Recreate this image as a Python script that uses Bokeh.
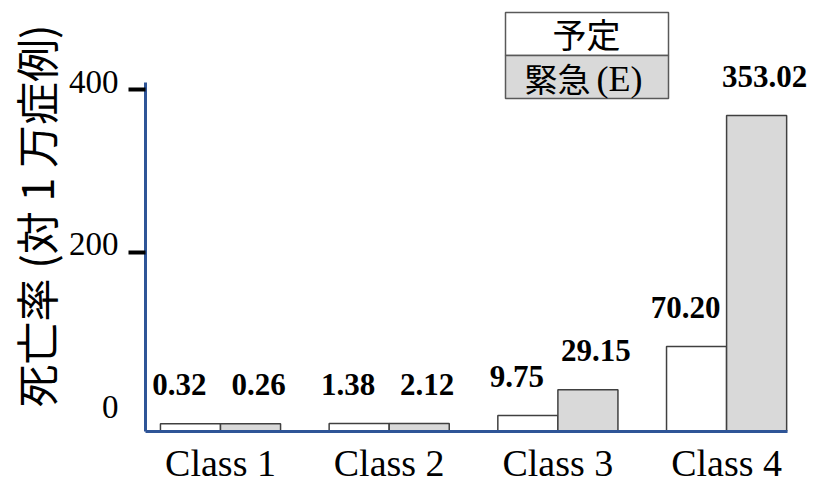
from bokeh.plotting import figure
from bokeh.models import Range1d, FixedTicker, ColumnDataSource, LinearAxis
from bokeh.core.properties import value
from bokeh.embed import file_html
from bokeh.resources import INLINE

# ---------------- data ----------------
categories = ["Class 1", "Class 2", "Class 3", "Class 4"]
series_names = ["予定", "緊急 (E)"]
planned_labels = ["0.32", "1.38", "9.75", "70.20"]
emergency_labels = ["0.26", "2.12", "29.15", "353.02"]
# bar tops (the source figure's bars are not drawn to scale)
planned_bar = [-10.8, -10.5, -0.6, 84.3]
emergency_bar = [-10.8, -10.5, 31.0, 368.6]
y_ticks = [0, 200, 400]
y_tick_labels = ["0", "200", "400"]
y_title = "死亡率 (対 1 万症例)"

# ---------------- layout constants ----------------
W, H = 816, 486
X0, X1 = 0.5554, 4.533
Y0, Y1 = -20.31, 510.15
BAR_W = 0.356
LABEL_SHIFT = 10          # tick labels sit slightly above their tick marks
AXIS_BLUE = "#2F5597"
GREY = "#D9D9D9"
EDGE = "#404040"
SERIF = "Liberation Serif"
CJK = "Noto Sans CJK JP"

# helper to convert legend pixel geometry to data space (legend decoration only)
FRAME_L, FRAME_T, FRAME_B = 145, 0, 431
def sx(px):
    return X0 + (px - FRAME_L) * (X1 - X0) / (W - FRAME_L)
def sy(py):
    return Y1 - (py - FRAME_T) * (Y1 - Y0) / (FRAME_B - FRAME_T)

xs = [i + 1 for i in range(len(categories))]

p = figure(width=W, height=H, output_backend="svg", toolbar_location=None,
           x_range=Range1d(X0, X1), y_range=Range1d(Y0, Y1),
           min_border_left=FRAME_L, min_border_right=0, min_border_top=0,
           min_border_bottom=H - FRAME_B)
p.grid.visible = False
p.outline_line_color = None
p.background_fill_color = "white"
p.border_fill_color = "white"

# bars
src = ColumnDataSource(dict(
    xp=[x - BAR_W / 2 for x in xs], xe=[x + BAR_W / 2 for x in xs],
    hp=planned_bar, he=emergency_bar,
    lp=planned_labels, le=emergency_labels))
p.vbar(x="xp", top="hp", bottom=Y0, width=BAR_W, source=src,
       fill_color="white", line_color=EDGE, line_width=1.5)
p.vbar(x="xe", top="he", bottom=Y0, width=BAR_W, source=src,
       fill_color=GREY, line_color=EDGE, line_width=1.5)

# value labels
p.text(x="xp", y="hp", text="lp", source=src, text_font=value(SERIF),
       text_font_style="bold", text_font_size="31px", text_align="center",
       text_baseline="alphabetic", x_offset=-11, y_offset=-39, text_color="black")
p.text(x="xe", y="he", text="le", source=src, text_font=value(SERIF),
       text_font_style="bold", text_font_size="31px", text_align="center",
       text_baseline="alphabetic", x_offset=8, y_offset=-39, text_color="black")

# legend (table-like box)
p.quad(left=[sx(505)], right=[sx(668)], top=[sy(12)], bottom=[sy(55)],
       fill_color="white", line_color="#595959", line_width=1.5)
p.quad(left=[sx(505)], right=[sx(668)], top=[sy(55)], bottom=[sy(98)],
       fill_color=GREY, line_color="#595959", line_width=1.5)
p.text(x=[sx(586)], y=[sy(33)], text=[series_names[0]], text_font=value(CJK),
       text_font_size="34px", text_align="center", text_baseline="middle",
       text_color="black")
em_cjk, em_lat = series_names[1].split(" ")
p.text(x=[sx(590)], y=[sy(77)], text=[em_cjk], text_font=value(CJK),
       text_font_size="33px", text_align="right", text_baseline="middle",
       text_color="black")
p.text(x=[sx(596)], y=[sy(78)], text=[em_lat], text_font=value(SERIF),
       text_font_size="36px", text_align="left", text_baseline="middle",
       text_color="black")

# y axis: tick marks only
ya = p.yaxis[0]
ya.ticker = FixedTicker(ticks=[t for t in y_ticks if t > 0], minor_ticks=[])
ya.bounds = (Y0, 409.2)
ya.axis_line_color = AXIS_BLUE
ya.axis_line_width = 3
ya.major_tick_out = 17
ya.major_tick_in = 0
ya.major_tick_line_width = 4
ya.major_tick_line_color = "black"
ya.minor_tick_line_color = None
ya.major_label_overrides = {t: "" for t in y_ticks}
ya.major_label_standoff = 0

# y axis: labels + title
shifted = [t + LABEL_SHIFT for t in y_ticks]
ya2 = LinearAxis(ticker=FixedTicker(ticks=shifted, minor_ticks=[]),
                 major_label_overrides={s: l for s, l in zip(shifted, y_tick_labels)},
                 axis_line_color=None, major_tick_line_color=None,
                 minor_tick_line_color=None, major_tick_out=0, major_tick_in=0,
                 major_label_standoff=10,
                 major_label_text_font=SERIF, major_label_text_font_size="33px",
                 major_label_text_color="black",
                 axis_label=y_title, axis_label_text_font=CJK,
                 axis_label_text_font_size="43px",
                 axis_label_text_font_style="normal",
                 axis_label_text_color="black", axis_label_standoff=0)
p.add_layout(ya2, "left")

# x axis
xa = p.xaxis[0]
xa.ticker = FixedTicker(ticks=xs, minor_ticks=[])
xa.major_label_overrides = {x: c for x, c in zip(xs, categories)}
xa.bounds = (X0, 4.36)
xa.axis_line_color = AXIS_BLUE
xa.axis_line_width = 3
xa.major_tick_out = 0
xa.major_tick_in = 0
xa.minor_tick_line_color = None
xa.major_label_text_font = SERIF
xa.major_label_text_font_size = "38px"
xa.major_label_text_color = "black"
xa.major_label_standoff = 10

open("out.html", "w").write(file_html(p, INLINE))
